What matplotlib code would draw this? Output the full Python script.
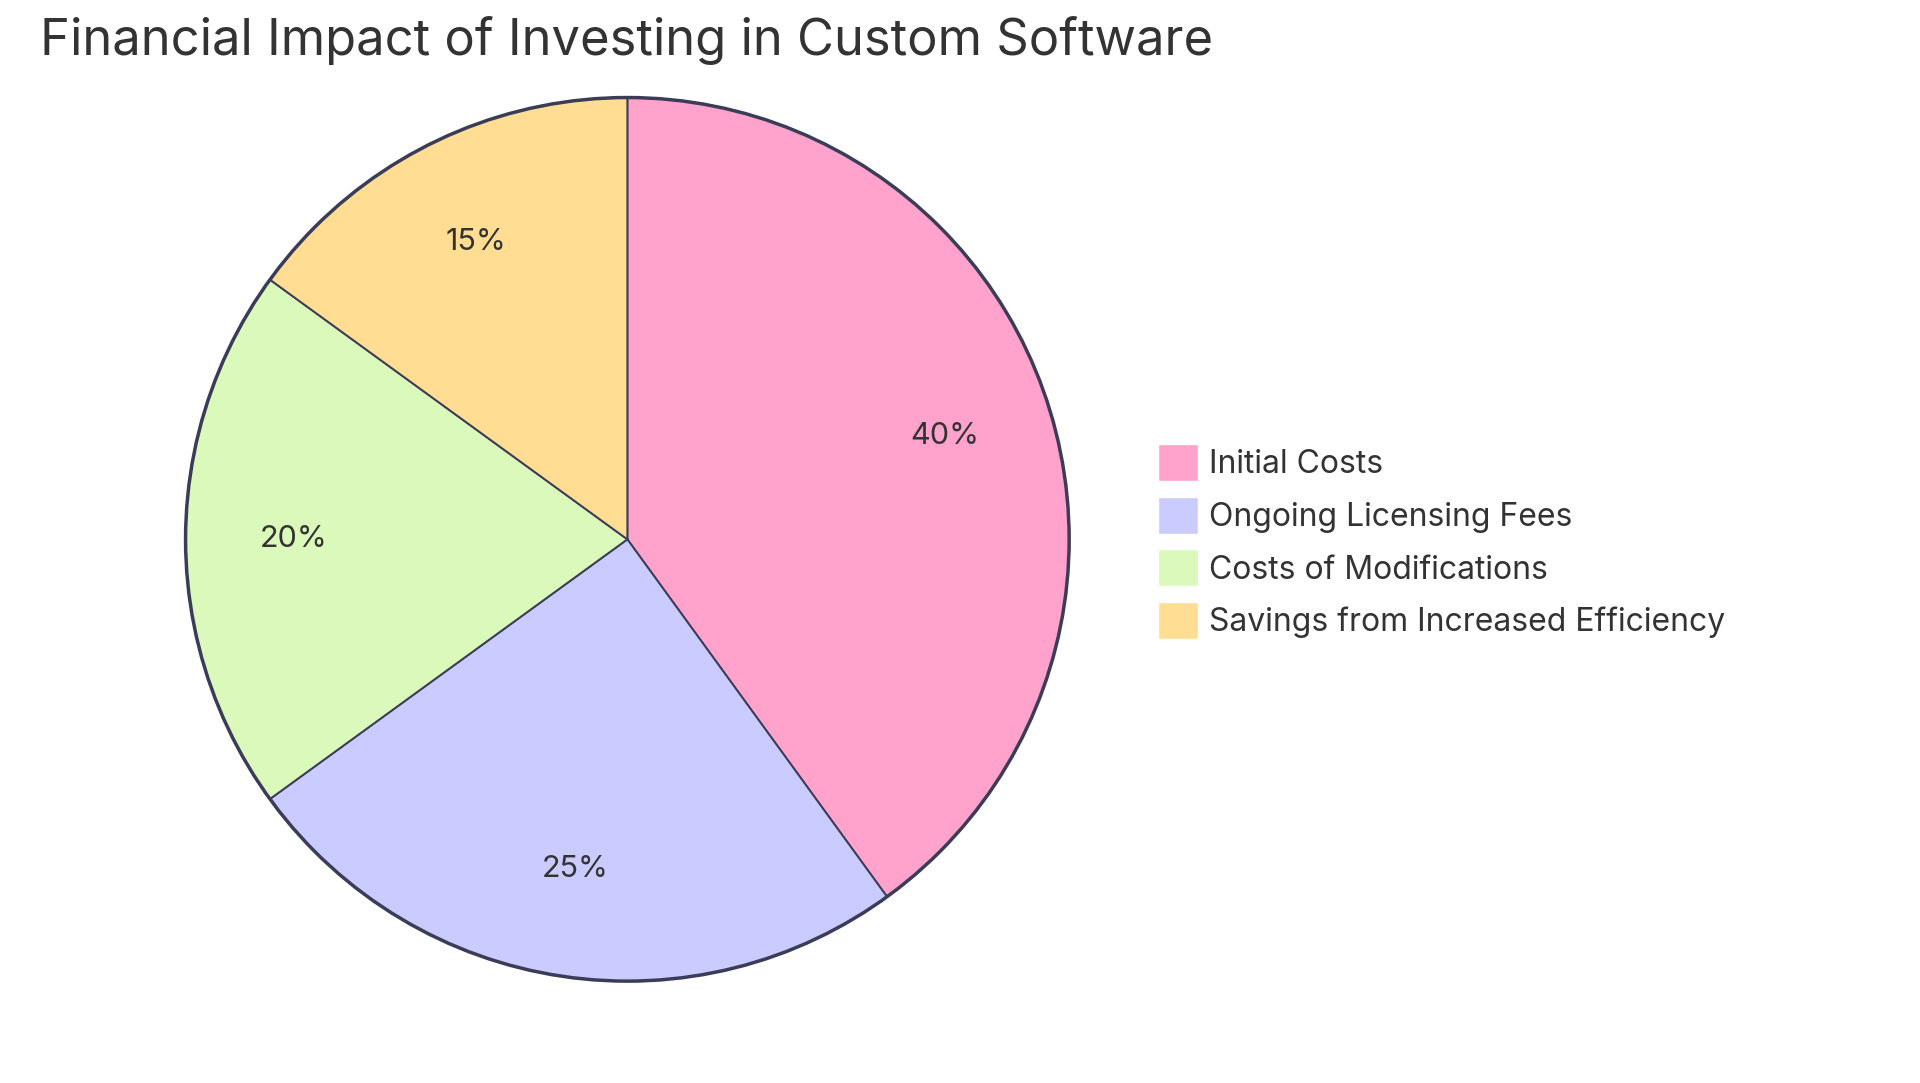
import matplotlib.pyplot as plt
from matplotlib.patches import Patch

plt.rcParams['font.family'] = ['Inter', 'DejaVu Sans']

labels = ["Initial Costs", "Ongoing Licensing Fees", "Costs of Modifications",
          "Savings from Increased Efficiency"]
values = [40, 25, 20, 15]
colors = ["#FFA3CD", "#CACBFF", "#DBF9BA", "#FFDE94"]
edge = "#3B3D58"
text_color = "#333333"

fig = plt.figure(figsize=(19.2, 10.83), dpi=100)
ax = fig.add_axes([0.0955, 0.092, 0.4625, 0.82])
ax.pie(values, colors=colors, startangle=90, counterclock=False, radius=1,
       wedgeprops=dict(edgecolor=edge, linewidth=1.4),
       autopct='%1.0f%%', pctdistance=0.755,
       textprops=dict(fontsize=22, color=text_color))
ax.add_patch(plt.Circle((0, 0), 1, fill=False, edgecolor=edge, linewidth=2.5))
ax.set_aspect('equal')
ax.set_xlim(-1.005, 1.005)
ax.set_ylim(-1.005, 1.005)

fig.text(0.021, 0.963, "Financial Impact of Investing in Custom Software",
         fontsize=36.5, color=text_color, va='center', ha='left')

handles = [Patch(facecolor=c, edgecolor='white', label=l) for c, l in zip(colors, labels)]
fig.legend(handles=handles, loc='center left', bbox_to_anchor=(0.588, 0.5),
           frameon=False, fontsize=23, handlelength=1.25, handleheight=1.4,
           handletextpad=0.35, labelspacing=0.5, labelcolor=text_color)

fig.savefig("out.png", dpi=100)
